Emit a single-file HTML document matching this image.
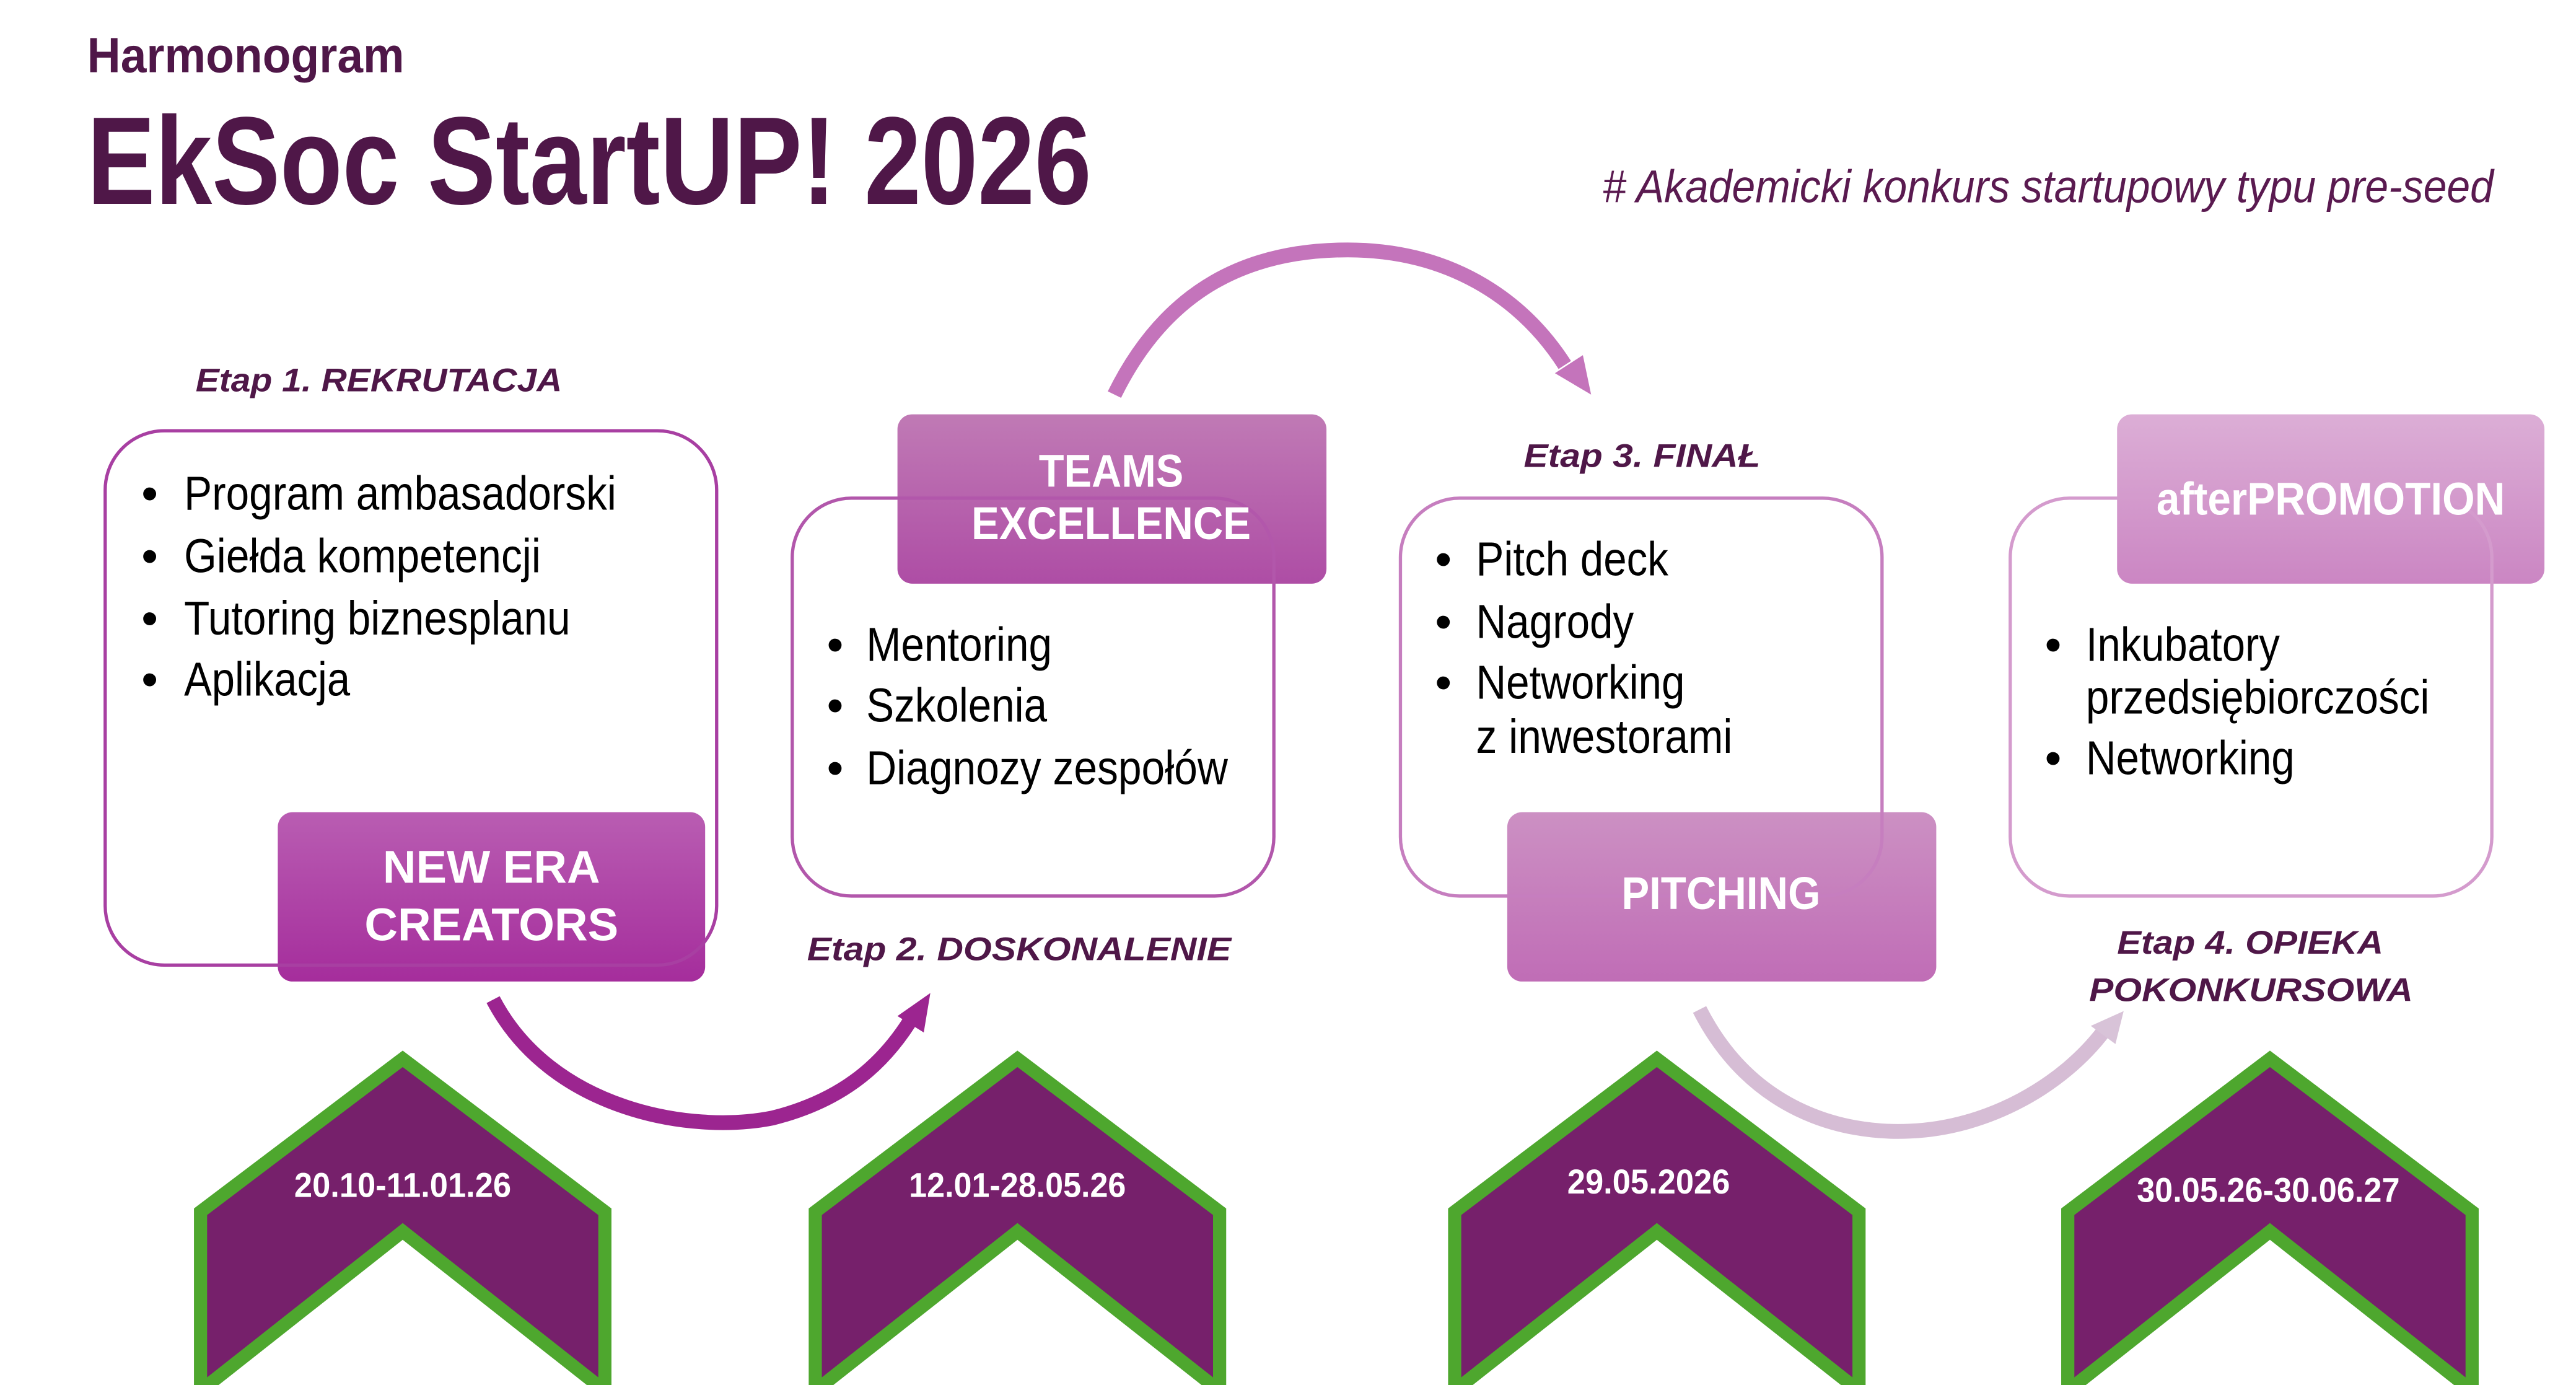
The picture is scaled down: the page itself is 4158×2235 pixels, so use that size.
<!DOCTYPE html>
<html><head><meta charset="utf-8">
<style>html,body{margin:0;padding:0;background:#fff;}svg{display:block;}</style></head>
<body>
<svg width="4158" height="2235" viewBox="0 0 1567.2 842.4" preserveAspectRatio="none" xmlns="http://www.w3.org/2000/svg" font-family="'Liberation Sans', sans-serif">
<defs>
<linearGradient id="g1" x1="0" y1="0" x2="0" y2="1"><stop offset="0" stop-color="#b95db2"/><stop offset="1" stop-color="#a52d9c"/></linearGradient>
<linearGradient id="g2" x1="0" y1="0" x2="0" y2="1"><stop offset="0" stop-color="#c07ab5"/><stop offset="1" stop-color="#ae4da5"/></linearGradient>
<linearGradient id="g3" x1="0" y1="0" x2="0" y2="1"><stop offset="0" stop-color="#cc90c3"/><stop offset="1" stop-color="#c06db6"/></linearGradient>
<linearGradient id="g4" x1="0" y1="0" x2="0" y2="1"><stop offset="0" stop-color="#dcaed6"/><stop offset="1" stop-color="#cb86c3"/></linearGradient>
</defs>

<text x="53" y="44" font-size="30" font-weight="bold" fill="#4f1748" textLength="193" lengthAdjust="spacingAndGlyphs">Harmonogram</text>
<text x="53" y="124" font-size="76" font-weight="bold" fill="#4f1748" textLength="611" lengthAdjust="spacingAndGlyphs">EkSoc StartUP! 2026</text>
<text x="975" y="123" font-size="28" font-style="italic" fill="#5a1a50" textLength="542" lengthAdjust="spacingAndGlyphs"># Akademicki konkurs startupowy typu pre-seed</text>

<g font-weight="bold" font-style="italic" fill="#4f1748" font-size="20">
<text x="119" y="238" textLength="223" lengthAdjust="spacingAndGlyphs">Etap 1. REKRUTACJA</text>
<text x="491" y="584" textLength="258" lengthAdjust="spacingAndGlyphs">Etap 2. DOSKONALENIE</text>
<text x="927" y="284" textLength="144" lengthAdjust="spacingAndGlyphs">Etap 3. FINAŁ</text>
<text x="1288" y="580" textLength="162" lengthAdjust="spacingAndGlyphs">Etap 4. OPIEKA</text>
<text x="1271" y="609" textLength="197" lengthAdjust="spacingAndGlyphs">POKONKURSOWA</text>
</g>

<rect x="64" y="262" width="372" height="325" rx="36" fill="#fff"/>
<rect x="482" y="303" width="293" height="242" rx="36" fill="#fff"/>
<rect x="852" y="303" width="293" height="242" rx="36" fill="#fff"/>
<rect x="1223" y="303" width="293" height="242" rx="36" fill="#fff"/>

<rect x="169" y="494" width="260" height="103" rx="9" fill="url(#g1)"/>
<rect x="546" y="252" width="261" height="103" rx="9" fill="url(#g2)"/>
<rect x="917" y="494" width="261" height="103" rx="9" fill="url(#g3)"/>
<rect x="1288" y="252" width="260" height="103" rx="9" fill="url(#g4)"/>

<g fill="none" stroke-width="2">
<rect x="64" y="262" width="372" height="325" rx="36" stroke="#a83fa2"/>
<rect x="482" y="303" width="293" height="242" rx="36" stroke="#b257ab"/>
<rect x="852" y="303" width="293" height="242" rx="36" stroke="#c67ebf"/>
<rect x="1223" y="303" width="293" height="242" rx="36" stroke="#d49bcd"/>
</g>

<g fill="#fff" font-weight="bold" font-size="28" text-anchor="middle">
<text x="299" y="537">NEW ERA</text>
<text x="299" y="572">CREATORS</text>
<text x="676" y="296" textLength="88" lengthAdjust="spacingAndGlyphs">TEAMS</text>
<text x="676" y="328" textLength="170" lengthAdjust="spacingAndGlyphs">EXCELLENCE</text>
<text x="1047" y="553" textLength="121" lengthAdjust="spacingAndGlyphs">PITCHING</text>
<text x="1418" y="313" textLength="212" lengthAdjust="spacingAndGlyphs">afterPROMOTION</text>
</g>

<g font-size="29" fill="#000">
<text x="86" y="310">•</text><text x="112" y="310" textLength="263" lengthAdjust="spacingAndGlyphs">Program ambasadorski</text>
<text x="86" y="348">•</text><text x="112" y="348" textLength="217" lengthAdjust="spacingAndGlyphs">Giełda kompetencji</text>
<text x="86" y="386">•</text><text x="112" y="386" textLength="235" lengthAdjust="spacingAndGlyphs">Tutoring biznesplanu</text>
<text x="86" y="423">•</text><text x="112" y="423" textLength="101" lengthAdjust="spacingAndGlyphs">Aplikacja</text>

<text x="503" y="402">•</text><text x="527" y="402" textLength="113" lengthAdjust="spacingAndGlyphs">Mentoring</text>
<text x="503" y="439">•</text><text x="527" y="439" textLength="110" lengthAdjust="spacingAndGlyphs">Szkolenia</text>
<text x="503" y="477">•</text><text x="527" y="477" textLength="220" lengthAdjust="spacingAndGlyphs">Diagnozy zespołów</text>

<text x="873" y="350">•</text><text x="898" y="350" textLength="117" lengthAdjust="spacingAndGlyphs">Pitch deck</text>
<text x="873" y="388">•</text><text x="898" y="388" textLength="96" lengthAdjust="spacingAndGlyphs">Nagrody</text>
<text x="873" y="425">•</text><text x="898" y="425" textLength="127" lengthAdjust="spacingAndGlyphs">Networking</text>
<text x="898" y="458" textLength="156" lengthAdjust="spacingAndGlyphs">z inwestorami</text>

<text x="1244" y="402">•</text><text x="1269" y="402" textLength="118" lengthAdjust="spacingAndGlyphs">Inkubatory</text>
<text x="1269" y="434" textLength="209" lengthAdjust="spacingAndGlyphs">przedsiębiorczości</text>
<text x="1244" y="471">•</text><text x="1269" y="471" textLength="127" lengthAdjust="spacingAndGlyphs">Networking</text>
</g>

<g fill="none" stroke-width="9" stroke-linecap="butt">
<path d="M300,608 C335,675 420,690 470,680 C510,670 535,650 553,622" stroke="#9c2590"/>
<path d="M678,240 C710,175 760,152 820,152 C880,152 925,180 952,222" stroke="#c474bb"/>
<path d="M1034,614 C1065,675 1120,690 1162,688 C1210,686 1255,660 1280,627" stroke="#d6bdd5"/>
</g>
<polygon points="566,604 546,618 562,628" fill="#9c2590"/>
<polygon points="968,240 946,227 963,216" fill="#c474bb"/>
<polygon points="1292,615 1272,624 1287,635" fill="#d8c3d8"/>

<g fill="#76206b" stroke="#4ea72e" stroke-width="8" stroke-linejoin="miter">
<polygon points="122,737 245,644 368,737 368,846 245,749 122,846"/>
<polygon points="496,737 619,644 742,737 742,846 619,749 496,846"/>
<polygon points="885,737 1008,644 1131,737 1131,846 1008,749 885,846"/>
<polygon points="1258,737 1381,644 1504,737 1504,846 1381,749 1258,846"/>
</g>
<g fill="#fff" font-weight="bold" font-size="21" text-anchor="middle">
<text x="245" y="728" textLength="132" lengthAdjust="spacingAndGlyphs">20.10-11.01.26</text>
<text x="619" y="728" textLength="132" lengthAdjust="spacingAndGlyphs">12.01-28.05.26</text>
<text x="1003" y="726" textLength="99" lengthAdjust="spacingAndGlyphs">29.05.2026</text>
<text x="1380" y="731" textLength="160" lengthAdjust="spacingAndGlyphs">30.05.26-30.06.27</text>
</g>
</svg>
</body></html>
